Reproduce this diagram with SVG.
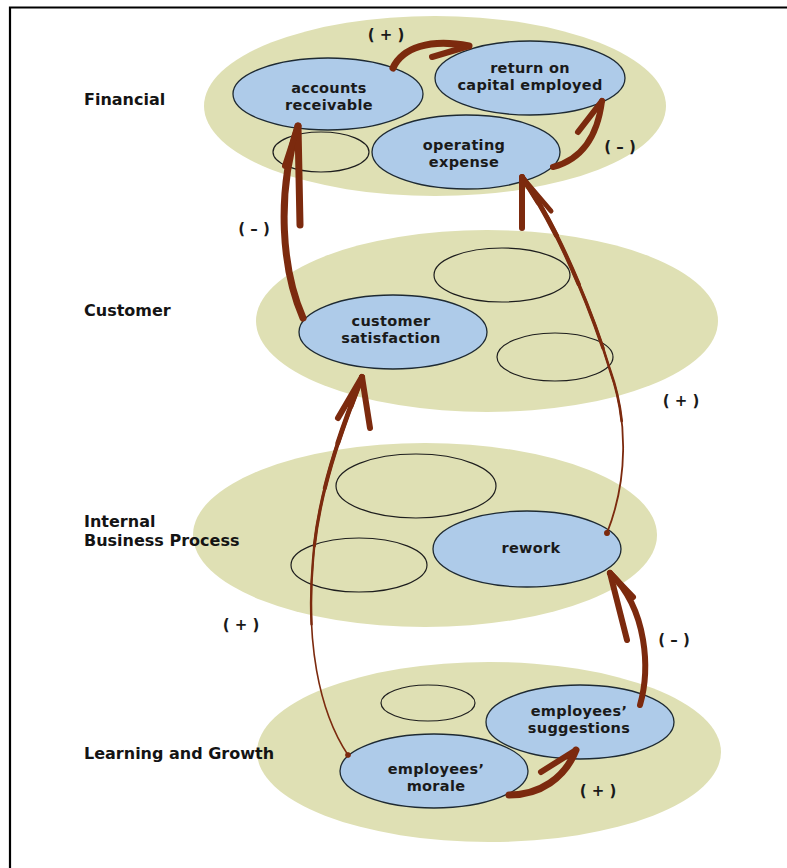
<svg xmlns="http://www.w3.org/2000/svg" width="787" height="868" viewBox="0 0 787 868">
  <style>
    .layer { fill: #dfe0b4; stroke: none; }
    .node { fill: #aecbe9; stroke: #1e2a33; stroke-width: 1.3; }
    .slot { fill: none; stroke: #1e1e1e; stroke-width: 1.2; }
    .lbl { font-family: "DejaVu Sans", "Liberation Sans", sans-serif; font-weight: bold; font-size: 16px; fill: #141414; }
    .txt { font-family: "DejaVu Sans", "Liberation Sans", sans-serif; font-weight: bold; font-size: 14.5px; letter-spacing: 0.3px; fill: #1a1a1a; text-anchor: middle; }
    .sign { font-family: "DejaVu Sans", "Liberation Sans", sans-serif; font-weight: bold; font-size: 15px; fill: #1a1a1a; text-anchor: middle; }
    .arr { fill: none; stroke: #7c2a0e; stroke-linecap: round; stroke-linejoin: round; }
  </style>

  <rect width="787" height="868" fill="#ffffff"/>
  <!-- frame -->
  <path d="M10,868 V7.5 H787" fill="none" stroke="#000" stroke-width="2.2"/>

  <!-- perspective layers -->
  <g id="layer-financial">
    <ellipse class="layer" cx="435" cy="106" rx="231" ry="90"/>
    <text class="lbl" x="84" y="105">Financial</text>
  </g>
  <g id="layer-customer">
    <ellipse class="layer" cx="487" cy="321" rx="231" ry="91"/>
    <text class="lbl" x="84" y="316">Customer</text>
  </g>
  <g id="layer-internal">
    <ellipse class="layer" cx="425" cy="535" rx="232" ry="92"/>
    <text class="lbl" x="84" y="527">Internal</text>
    <text class="lbl" x="84" y="546">Business Process</text>
  </g>
  <g id="layer-learning">
    <ellipse class="layer" cx="489" cy="752" rx="232" ry="90"/>
    <text class="lbl" x="84" y="759">Learning and Growth</text>
  </g>

  <!-- empty slots -->
  <g id="slot-financial"><ellipse class="slot" cx="321" cy="152" rx="48" ry="20"/></g>
  <g id="slot-customer-1"><ellipse class="slot" cx="502" cy="275" rx="68" ry="27"/></g>
  <g id="slot-customer-2"><ellipse class="slot" cx="555" cy="357" rx="58" ry="24"/></g>
  <g id="slot-internal-1"><ellipse class="slot" cx="416" cy="486" rx="80" ry="32"/></g>
  <g id="slot-internal-2"><ellipse class="slot" cx="359" cy="565" rx="68" ry="27"/></g>
  <g id="slot-learning"><ellipse class="slot" cx="428" cy="703" rx="47" ry="18"/></g>

  <!-- measures -->
  <g id="accounts-receivable">
    <ellipse class="node" cx="328" cy="94" rx="95" ry="36"/>
    <text class="txt" x="329" y="93">accounts</text>
    <text class="txt" x="329" y="110">receivable</text>
  </g>
  <g id="return-on-capital">
    <ellipse class="node" cx="530" cy="78" rx="95" ry="37"/>
    <text class="txt" x="530" y="73">return on</text>
    <text class="txt" x="530" y="90">capital employed</text>
  </g>
  <g id="operating-expense">
    <ellipse class="node" cx="466" cy="152" rx="94" ry="37"/>
    <text class="txt" x="464" y="150">operating</text>
    <text class="txt" x="464" y="167">expense</text>
  </g>
  <g id="customer-satisfaction">
    <ellipse class="node" cx="393" cy="332" rx="94" ry="37"/>
    <text class="txt" x="391" y="326">customer</text>
    <text class="txt" x="391" y="343">satisfaction</text>
  </g>
  <g id="rework">
    <ellipse class="node" cx="527" cy="549" rx="94" ry="38"/>
    <text class="txt" x="531" y="553">rework</text>
  </g>
  <g id="employees-suggestions">
    <ellipse class="node" cx="580" cy="722" rx="94" ry="37"/>
    <text class="txt" x="579" y="716">employees’</text>
    <text class="txt" x="579" y="733">suggestions</text>
  </g>
  <g id="employees-morale">
    <ellipse class="node" cx="434" cy="771" rx="94" ry="37"/>
    <text class="txt" x="436" y="774">employees’</text>
    <text class="txt" x="436" y="791">morale</text>
  </g>

  <!-- causal links -->
  <g id="connectors">
    <!-- accounts receivable -> return on capital employed -->
    <path class="arr" stroke-width="7" d="M393,68 C402,48 430,38 469,46"/>
    <path class="arr" stroke-width="6" d="M469,46 L432,57"/>
    <!-- operating expense -> return on capital employed -->
    <path class="arr" stroke-width="6" d="M553,167 C580,160 597,140 602,101"/>
    <path class="arr" stroke-width="6" d="M602,101 L578,132"/>
    <!-- customer satisfaction -> accounts receivable -->
    <path class="arr" stroke-width="7" d="M303,318 C282,270 276,195 298,126"/>
    <path class="arr" stroke-width="7" d="M298,126 L300,225"/>
    <path class="arr" stroke-width="6" d="M298,126 L285,166"/>
    <!-- rework -> operating expense (tapering stroke) -->
    <g>
      <path class="arr" stroke-width="1.8" pathLength="100" d="M607,533 C628,480 628,420 610,370 C595,320 560,230 522,177"/>
      <path class="arr" stroke-width="2.6" pathLength="100" stroke-dasharray="0 30 70" d="M607,533 C628,480 628,420 610,370 C595,320 560,230 522,177"/>
      <path class="arr" stroke-width="3.4" pathLength="100" stroke-dasharray="0 50 50" d="M607,533 C628,480 628,420 610,370 C595,320 560,230 522,177"/>
      <path class="arr" stroke-width="4.2" pathLength="100" stroke-dasharray="0 68 32" d="M607,533 C628,480 628,420 610,370 C595,320 560,230 522,177"/>
      <path class="arr" stroke-width="5" pathLength="100" stroke-dasharray="0 82 18" d="M607,533 C628,480 628,420 610,370 C595,320 560,230 522,177"/>
      <path class="arr" stroke-width="5.8" pathLength="100" stroke-dasharray="0 92 8" d="M607,533 C628,480 628,420 610,370 C595,320 560,230 522,177"/>
    </g>
    <path class="arr" stroke-width="6" d="M522,177 L522,228"/>
    <path class="arr" stroke-width="5" d="M522,177 L551,211"/>
    <!-- employees' morale -> customer satisfaction (tapering stroke) -->
    <g>
      <path class="arr" stroke-width="1.6" pathLength="100" d="M348,755 C318,710 306,640 313,560 C318,490 345,420 362,377"/>
      <path class="arr" stroke-width="2.4" pathLength="100" stroke-dasharray="0 35 65" d="M348,755 C318,710 306,640 313,560 C318,490 345,420 362,377"/>
      <path class="arr" stroke-width="3.2" pathLength="100" stroke-dasharray="0 55 45" d="M348,755 C318,710 306,640 313,560 C318,490 345,420 362,377"/>
      <path class="arr" stroke-width="4" pathLength="100" stroke-dasharray="0 70 30" d="M348,755 C318,710 306,640 313,560 C318,490 345,420 362,377"/>
      <path class="arr" stroke-width="4.8" pathLength="100" stroke-dasharray="0 82 18" d="M348,755 C318,710 306,640 313,560 C318,490 345,420 362,377"/>
      <path class="arr" stroke-width="5.6" pathLength="100" stroke-dasharray="0 92 8" d="M348,755 C318,710 306,640 313,560 C318,490 345,420 362,377"/>
    </g>
    <path class="arr" stroke-width="6" d="M362,377 L338,418"/>
    <path class="arr" stroke-width="6" d="M362,377 L370,428"/>
    <!-- employees' suggestions -> rework -->
    <path class="arr" stroke-width="6" d="M640,705 C650,670 648,610 610,573"/>
    <path class="arr" stroke-width="6" d="M610,573 L627,640"/>
    <path class="arr" stroke-width="6" d="M610,573 L633,597"/>
    <!-- employees' morale -> employees' suggestions -->
    <path class="arr" stroke-width="7" d="M509,795 C540,795 565,778 576,750"/>
    <path class="arr" stroke-width="6" d="M576,750 L541,772"/>
  </g>

  <!-- link polarities -->
  <g id="polarities">
    <text class="sign" x="386" y="40">( + )</text>
    <text class="sign" x="620" y="152">( – )</text>
    <text class="sign" x="254" y="234">( – )</text>
    <text class="sign" x="681" y="406">( + )</text>
    <text class="sign" x="241" y="630">( + )</text>
    <text class="sign" x="674" y="645">( – )</text>
    <text class="sign" x="598" y="796">( + )</text>
  </g>
</svg>
